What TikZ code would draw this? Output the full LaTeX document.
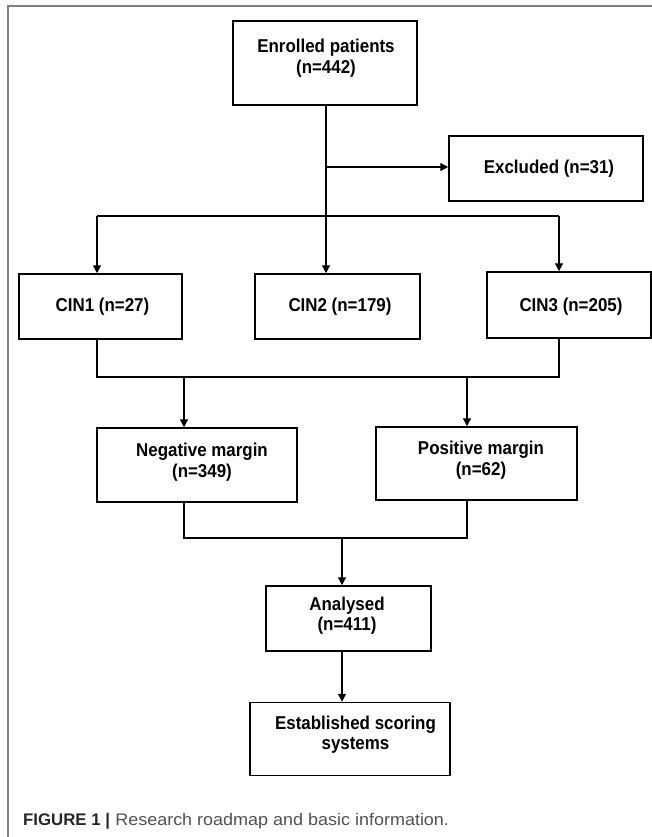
\documentclass[tikz,border=0pt]{standalone}
\usepackage{fontspec}
\usepackage{graphicx}
\setmainfont{Liberation Sans}
\usetikzlibrary{arrows.meta}
\newcommand{\sqz}[1]{\scalebox{0.91}[1]{\begin{tabular}{@{}c@{}}#1\end{tabular}}}
\begin{document}
\begin{tikzpicture}[x=1pt,y=-1pt,
  box/.style={draw=black, line width=1.5pt, rectangle, inner sep=0pt},
  txt/.style={inner sep=0pt, font=\bfseries\fontsize{18.6}{20.5}\selectfont},
  conn/.style={draw=black, line width=1.3pt},
  arr/.style={conn, -{Triangle[length=8pt,width=8pt]}},
  frame/.style={draw=black!50, line width=1.2pt}
]
\useasboundingbox (0,0) rectangle (652,837);
\fill[white] (0,0) rectangle (652,837);
% frame
\draw[frame] (8,837) -- (8,6) -- (652,6);

% boxes
\node[box, minimum width=184pt, minimum height=84pt] (enr) at (325,63) {};
\node[txt] (enrt) at (326,58.8) {\sqz{Enrolled patients\\(n=442)}};

\node[box, minimum width=194pt, minimum height=65pt] (exc) at (546,168.5) {};
\node[txt] (exct) at (549,169.3) {\sqz{Excluded (n=31)}};

\node[box, minimum width=163pt, minimum height=65pt] (cin1) at (100.5,306.5) {};
\node[txt] (cin1t) at (102.5,307.5) {\sqz{CIN1 (n=27)}};
\node[box, minimum width=165pt, minimum height=65pt] (cin2) at (337.5,306.5) {};
\node[txt] (cin2t) at (340,307.5) {\sqz{CIN2 (n=179)}};
\node[box, minimum width=164pt, minimum height=66pt] (cin3) at (569,305) {};
\node[txt] (cin3t) at (571,307) {\sqz{CIN3 (n=205)}};

\node[box, minimum width=200pt, minimum height=74pt] (neg) at (197,465) {};
\node[txt] (negt) at (202,462.8) {\sqz{Negative margin\\(n=349)}};
\node[box, minimum width=201pt, minimum height=73pt] (pos) at (476.5,463.5) {};
\node[txt] (post) at (481,460.8) {\sqz{Positive margin\\(n=62)}};

\node[box, minimum width=165pt, minimum height=65pt] (ana) at (348.5,618.5) {};
\node[txt] (anat) at (347,616.5) {\sqz{Analysed\\(n=411)}};

\node[box, minimum width=200pt, minimum height=73pt] (est) at (350,739) {};
\node[txt] (estt) at (355.5,735.5) {\sqz{Established scoring\\systems}};

% junction coordinates
\coordinate (top) at (326,105);
\coordinate (bx) at (326,167);
\coordinate (hl) at (97,216);
\coordinate (hr) at (559,216);
\coordinate (c1b) at (97,339);
\coordinate (c3b) at (559,338);
\coordinate (ml) at (97,377);
\coordinate (mr) at (559,377);
\coordinate (mn) at (184,377);
\coordinate (mp) at (467,377);
\coordinate (nb) at (184,502);
\coordinate (pb) at (467,500);
\coordinate (ll) at (184,538);
\coordinate (lr) at (467,538);
\coordinate (la) at (342,538);
\coordinate (ab) at (342,651);

% connectors
\draw[arr] (top) -- (top |- cin2.north);
\draw[arr] (bx) -- (bx -| exc.west);
\draw[conn] (hl) -- (hr);
\draw[arr] (hl) -- (hl |- cin1.north);
\draw[arr] (hr) -- (hr |- cin3.north);

\draw[conn] (c1b) -- (ml) -- (mr) -- (c3b);
\draw[arr] (mn) -- (mn |- neg.north);
\draw[arr] (mp) -- (mp |- pos.north);

\draw[conn] (nb) -- (ll) -- (lr) -- (pb);
\draw[arr] (la) -- (la |- ana.north);
\draw[arr] (ab) -- (ab |- est.north);

% caption
\node[anchor=base west, inner sep=0pt, font=\fontsize{16.8}{20}\selectfont] (cap) at (23,825)
  {\textcolor{black!85}{\bfseries FIGURE 1 |}\hspace{0.6pt} \textcolor{black!68}{\scalebox{1.07}[1]{Research roadmap and basic information.}}};
\end{tikzpicture}
\end{document}
